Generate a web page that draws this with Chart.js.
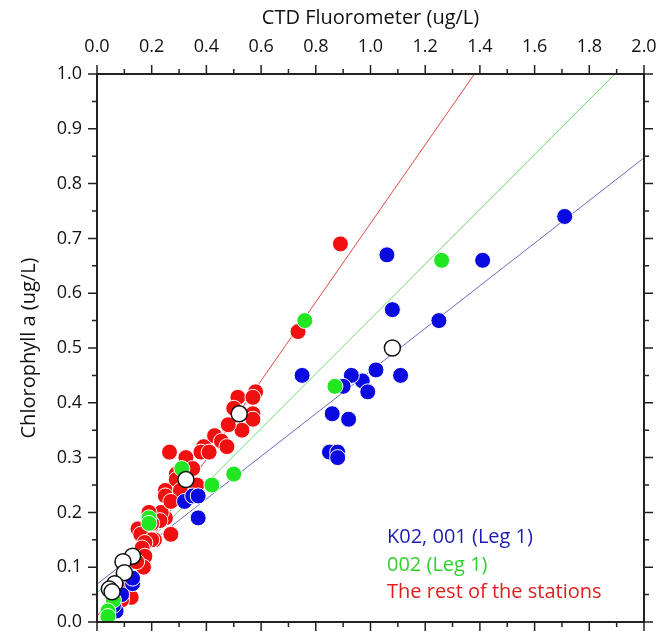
<!DOCTYPE html>
<html>
<head>
<meta charset="utf-8">
<script src="https://cdn.jsdelivr.net/npm/chart.js@4.4.1/dist/chart.umd.min.js"></script>
<style>
  body { margin: 0; background: #fff; }
  #wrap { position: relative; width: 659px; height: 635px; }
  #legend {
    position: absolute; left: 387px; top: 522px;
    font-family: "Open Sans", sans-serif; font-size: 20px; line-height: 27.5px;
  }
</style>
</head>
<body>
<div id="wrap">
  <canvas id="chart" width="659" height="635"></canvas>
  <div id="legend">
    <div style="color:#1c1cb4">K02, 001 (Leg 1)</div>
    <div style="color:#2ed22e">002 (Leg 1)</div>
    <div style="color:#e01e1e">The rest of the stations</div>
  </div>
</div>
<script>
// tick labels
const xTickLabels = ['0.0', '0.2', '0.4', '0.6', '0.8', '1.0', '1.2', '1.4', '1.6', '1.8', '2.0'];
const yTickLabels = ['0.0', '0.1', '0.2', '0.3', '0.4', '0.5', '0.6', '0.7', '0.8', '0.9', '1.0'];

// K02, 001 (Leg 1)
const blueX = [1.71, 1.41, 1.06, 1.25, 1.08, 1.11, 1.02, 0.97, 0.99, 0.93, 0.90, 0.75, 0.86, 0.92, 0.85, 0.88, 0.88,
  0.32, 0.35, 0.37, 0.37, 0.13, 0.13, 0.09, 0.07, 0.06];
const blueY = [0.74, 0.66, 0.67, 0.55, 0.57, 0.45, 0.46, 0.44, 0.42, 0.45, 0.43, 0.45, 0.38, 0.37, 0.31, 0.31, 0.30,
  0.22, 0.23, 0.23, 0.19, 0.07, 0.08, 0.05, 0.02, 0.03];

// 002 (Leg 1)
const greenX = [1.26, 0.76, 0.87, 0.50, 0.42, 0.31, 0.19, 0.19, 0.06, 0.04, 0.04];
const greenY = [0.66, 0.55, 0.43, 0.27, 0.25, 0.28, 0.19, 0.18, 0.04, 0.02, 0.01];

// the rest of the stations
const redX = [0.89, 0.735, 0.58, 0.515, 0.57, 0.57, 0.57, 0.53, 0.48, 0.50, 0.43, 0.455, 0.475, 0.39, 0.38, 0.41,
  0.265, 0.325, 0.35, 0.29, 0.29, 0.365, 0.25, 0.25, 0.305, 0.25, 0.235, 0.15, 0.16, 0.21, 0.20, 0.175, 0.27,
  0.23, 0.165, 0.175, 0.17, 0.145, 0.13, 0.10, 0.125, 0.09, 0.19, 0.20, 0.27];
const redY = [0.69, 0.53, 0.42, 0.41, 0.41, 0.38, 0.37, 0.35, 0.36, 0.39, 0.34, 0.33, 0.32, 0.32, 0.31, 0.31,
  0.31, 0.30, 0.28, 0.27, 0.26, 0.25, 0.24, 0.23, 0.24, 0.19, 0.20, 0.17, 0.16, 0.15, 0.15, 0.145, 0.16,
  0.185, 0.135, 0.12, 0.10, 0.11, 0.08, 0.06, 0.045, 0.04, 0.20, 0.18, 0.22];

// open circles
const openX = [1.08, 0.52, 0.325, 0.13, 0.095, 0.10, 0.065, 0.045, 0.055];
const openY = [0.50, 0.38, 0.26, 0.12, 0.11, 0.09, 0.07, 0.06, 0.055];

// fitted lines (end points)
const fitRedX = [0.0, 1.38];
const fitRedY = [0.01, 1.0];
const fitGreenX = [0.0, 1.894];
const fitGreenY = [0.053, 1.0];
const fitBlueX = [0.0, 2.0];
const fitBlueY = [0.069, 0.847];

const pts = (xs, ys) => xs.map((x, i) => ({ x, y: ys[i] }));

function dots(data, fill, order, edge = '#ffffff', edgeWidth = 1) {
  return {
    type: 'scatter', data, order,
    backgroundColor: fill, borderColor: edge, borderWidth: edgeWidth,
    pointRadius: 8, pointHoverRadius: 8,
  };
}

function fit(data, color, order) {
  return {
    type: 'line', data, order,
    borderColor: color, borderWidth: 1, pointRadius: 0, tension: 0, fill: false,
  };
}

// box round the plot, with outward ticks: major and minor
const framePlugin = {
  id: 'frame',
  afterDraw(chart) {
    const { ctx, chartArea: a, scales: { x, y } } = chart;
    ctx.save();
    ctx.strokeStyle = '#222';
    ctx.lineWidth = 1.5;
    for (let i = 0; i <= 20; i++) {
      const px = x.getPixelForValue(i / 10);
      const len = i % 2 === 0 ? 9 : 5;
      ctx.beginPath();
      ctx.moveTo(px, a.top); ctx.lineTo(px, a.top - len);
      ctx.moveTo(px, a.bottom); ctx.lineTo(px, a.bottom + len);
      ctx.stroke();
    }
    for (let i = 0; i <= 20; i++) {
      const py = y.getPixelForValue(i / 20);
      const len = i % 2 === 0 ? 9 : 5;
      ctx.beginPath();
      ctx.moveTo(a.left, py); ctx.lineTo(a.left - len, py);
      ctx.moveTo(a.right, py); ctx.lineTo(a.right + len, py);
      ctx.stroke();
    }
    ctx.lineWidth = 2;
    ctx.strokeRect(a.left, a.top, a.right - a.left, a.bottom - a.top);
    ctx.restore();
  },
};

const font = { family: '"Open Sans", sans-serif', size: 18 };
const titleFont = { family: '"Open Sans", sans-serif', size: 20 };

new Chart(document.getElementById('chart'), {
  type: 'scatter',
  data: {
    datasets: [
      dots(pts(openX, openY), '#ffffff', 0, '#111111', 1.5),
      dots(pts(greenX, greenY), '#22e622', 1),
      dots(pts(blueX, blueY), '#0a0ae0', 2),
      dots(pts(redX, redY), '#f01010', 3),
      fit(pts(fitRedX, fitRedY), '#e04848', 4),
      fit(pts(fitGreenX, fitGreenY), '#6ede6e', 5),
      fit(pts(fitBlueX, fitBlueY), '#6a6ac0', 6),
    ],
  },
  options: {
    responsive: false,
    animation: false,
    layout: { padding: { left: 0, top: 0, right: 15, bottom: 13 } },
    plugins: { legend: { display: false }, tooltip: { enabled: false } },
    scales: {
      x: {
        type: 'linear', position: 'top', min: 0, max: 2,
        afterFit: s => { s.height = 74; s.paddingLeft = 0; s.paddingRight = 0; },
        grid: { display: false, drawTicks: false },
        border: { display: false },
        ticks: { stepSize: 0.2, padding: 16, color: '#111', font, callback: (v, i) => xTickLabels[i] },
        title: { display: true, text: 'CTD Fluorometer (ug/L)', color: '#111', font: titleFont,
          padding: { top: 6, bottom: 0 } },
      },
      y: {
        type: 'linear', position: 'left', min: 0, max: 1,
        afterFit: s => { s.width = 97; s.paddingTop = 0; s.paddingBottom = 0; },
        grid: { display: false, drawTicks: false },
        border: { display: false },
        ticks: { stepSize: 0.1, padding: 15, color: '#111', font, callback: (v, i) => yTickLabels[i] },
        title: { display: true, text: 'Chlorophyll a (ug/L)', color: '#111', font: titleFont,
          padding: { top: 17, bottom: 0 } },
      },
    },
  },
  plugins: [framePlugin],
});
</script>
</body>
</html>
